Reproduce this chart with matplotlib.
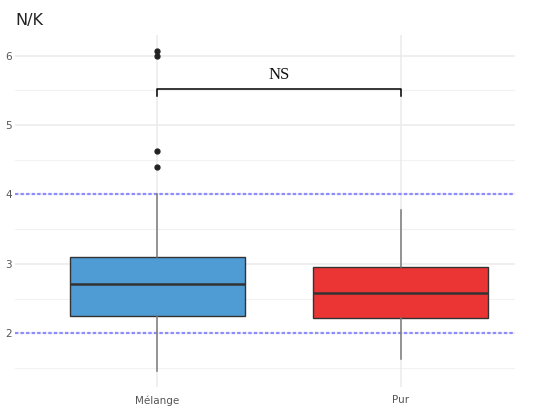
import matplotlib
matplotlib.use("Agg")
import matplotlib.pyplot as plt

categories = ["Mélange", "Pur"]
q1 = [2.25, 2.22]
medians = [2.71, 2.58]
q3 = [3.10, 2.96]
whisker_low = [1.46, 1.63]
whisker_high = [4.00, 3.78]
outliers = [[6.06, 6.00, 4.62, 4.39], []]
box_colors = ["#4F9BD4", "#EB3535"]
ref_lines = [2, 4]
yticks = [2, 3, 4, 5, 6]
bracket_y = 5.52
bracket_drop = 0.11
sig_label = "NS"
title = "N/K"

fig = plt.figure(figsize=(5.35, 4.08), dpi=100)
ax = fig.add_axes([0.028, 0.052, 0.935, 0.863])

positions = list(range(1, len(categories) + 1))
stats = []
for i, c in enumerate(categories):
    stats.append(dict(med=medians[i], q1=q1[i], q3=q3[i],
                      whislo=whisker_low[i], whishi=whisker_high[i],
                      fliers=outliers[i], label=c))

# grid
for y in [1.5, 2.5, 3.5, 4.5, 5.5]:
    ax.axhline(y, color="#F2F2F2", lw=0.8, zorder=0)
for y in yticks:
    ax.axhline(y, color="#EBEBEB", lw=1.1, zorder=0)
for p in positions:
    ax.axvline(p, color="#EBEBEB", lw=1.1, zorder=0)

bp = ax.bxp(stats, positions=positions, widths=0.72, patch_artist=True,
            showcaps=False,
            boxprops=dict(edgecolor="#333333", linewidth=1.0),
            medianprops=dict(color="#333333", linewidth=1.8),
            whiskerprops=dict(color="#7A7A7A", linewidth=1.1),
            flierprops=dict(marker="o", markerfacecolor="#222222",
                            markeredgecolor="#222222", markersize=3.5),
            zorder=3)
for patch, col in zip(bp["boxes"], box_colors):
    patch.set_facecolor(col)

for y in ref_lines:
    ax.axhline(y, color="#8C8CFF", lw=1.6, ls=(0, (1.5, 1.0)), zorder=2)

# significance bracket
x1, x2 = positions[0], positions[1]
ax.plot([x1, x1, x2, x2],
        [bracket_y - bracket_drop, bracket_y, bracket_y, bracket_y - bracket_drop],
        color="black", lw=1.1, zorder=4)
ax.text((x1 + x2) / 2, bracket_y + 0.08, sig_label, ha="center", va="bottom",
        family="Liberation Serif", fontsize=12, color="#111111")

ax.set_xlim(0.416, 2.47)
ax.set_ylim(1.23, 6.30)
ax.set_yticks(yticks)
ax.set_yticklabels([str(t) for t in yticks])
ax.set_xticks(positions)
ax.set_xticklabels(categories)
ax.tick_params(axis="both", length=0, labelsize=7.5, labelcolor="#555555")
ax.tick_params(axis="x", pad=6)
ax.tick_params(axis="y", pad=2)
for s in ax.spines.values():
    s.set_visible(False)

fig.text(0.028, 0.95, title, fontsize=11.5, color="#222222", ha="left", va="center")

fig.savefig("out.png", dpi=100)
